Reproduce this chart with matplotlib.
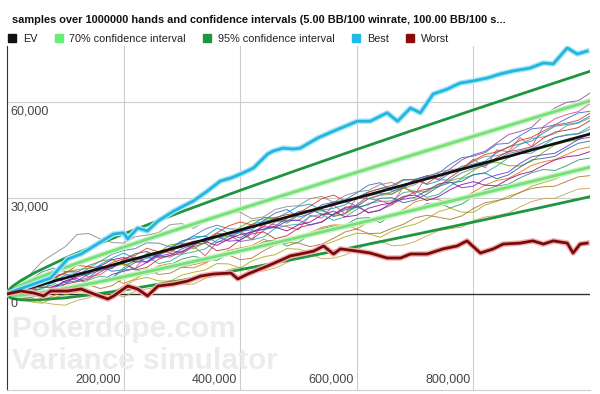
import matplotlib.pyplot as plt
from matplotlib.patches import Patch
from matplotlib.transforms import offset_copy

plt.rcParams['font.family'] = ['Liberation Sans', 'DejaVu Sans']

# hands in thousands
ci_hands = [0, 5, 10, 25, 50, 100, 150, 200, 300, 400, 500, 600, 700, 800, 900, 1000]
ev = [0, 250, 500, 1250, 2500, 5000, 7500, 10000, 15000, 20000, 25000, 30000, 35000, 40000, 45000, 50000]
upper_95 = [0, 1636, 2460, 4349, 6883, 11198, 15091, 18765, 25735, 32397, 38859, 45182, 51399, 57530, 63595, 69600]
lower_95 = [0, -1136, -1460, -1849, -1883, -1198, -91, 1235, 4265, 7603, 11141, 14818, 18601, 22470, 26405, 30400]
upper_70 = [0, 983, 1536, 2888, 4817, 8276, 11512, 14633, 20674, 26553, 32326, 38025, 43668, 49266, 54828, 60360]
lower_70 = [0, -483, -536, -388, 183, 1724, 3488, 5367, 9326, 13447, 17674, 21975, 26332, 30734, 35172, 39640]

best_hands = [0, 12, 75, 104, 127, 183, 200, 207, 224, 241, 259, 286, 320, 344, 366, 384, 401, 423, 447, 457,
              474, 491, 503, 533, 560, 601, 623, 652, 670, 692, 709, 731, 755, 777, 800, 824, 846, 868, 897,
              920, 937, 961, 978, 995]
best = [0, 940, 5000, 10900, 12500, 18750, 19100, 17200, 20600, 19700, 22800, 25900, 29100, 32200, 35300,
        36250, 37500, 39400, 43750, 44700, 45600, 45300, 45600, 48750, 50900, 54000, 54000, 56600, 54000,
        58100, 56600, 62500, 64000, 65900, 66600, 67500, 68750, 69700, 70600, 72200, 71900, 76900, 75000, 75900]

worst_hands = [0, 24, 46, 63, 75, 104, 127, 149, 173, 183, 207, 224, 241, 259, 286, 310, 332, 354, 384, 396,
               413, 447, 474, 486, 503, 526, 543, 560, 572, 601, 623, 652, 675, 692, 721, 748, 772, 789, 812,
               834, 851, 880, 902, 920, 937, 961, 971, 983, 995]
worst = [0, 940, 300, -600, 940, 940, 1560, 0, -1560, -600, 2500, 1560, -600, 2500, 3100, 4060, 5600, 6250,
         6560, 4700, 6250, 8750, 10900, 11900, 12500, 13400, 15000, 12500, 14100, 13400, 12800, 11250, 11250,
         12500, 12500, 14100, 15000, 16600, 12800, 14100, 15600, 15900, 16600, 15600, 16600, 15900, 12800,
         15600, 15900]

# sample runs, every 20k hands, values in thousands of BB
sample_hands = [0, 20, 40, 60, 80, 100, 120, 140, 160, 180, 200, 220, 240, 260, 280, 300, 320, 340, 360,
                380, 400, 420, 440, 460, 480, 500, 520, 540, 560, 580, 600, 620, 640, 660, 680, 700, 720,
                740, 760, 780, 800, 820, 840, 860, 880, 900, 920, 940, 960, 980, 1000]
s01 = [0, 2.4, 3.1, 3.2, 5.8, 6.3, 4.2, 5.1, 7.9, 8.2, 10.5, 11.6, 9.8, 12.3, 13.6, 13.0, 15.2, 17.4, 17.9, 18.5,
       16.4, 17.0, 19.8, 22.5, 23.1, 23.0, 25.4, 26.5, 24.2, 25.1, 27.9, 30.6, 31.5, 31.2, 33.2, 35.6, 36.8, 37.0,
       39.1, 41.9, 43.5, 44.6, 47.2, 49.8, 50.8, 52.1, 55.6, 58.2, 59.9, 60.4, 62.8]
s02 = [0, 1.9, 1.5, 2.2, 4.9, 6.8, 7.2, 5.3, 6.1, 8.4, 9.4, 7.9, 12.8, 11.9, 11.5, 13.4, 14.9, 12.0, 16.2, 16.8,
       19.7, 17.1, 22.3, 21.6, 21.0, 20.1, 24.6, 23.7, 27.8, 25.1, 30.1, 29.8, 29.2, 28.0, 33.5, 31.2, 36.9, 35.9,
       38.4, 38.8, 42.2, 39.4, 45.0, 44.5, 48.9, 46.0, 52.3, 54.8, 56.1, 57.0, 59.5]
s03 = [0, 0.6, -1.2, 0.1, 2.4, 3.1, 5.9, 8.0, 8.8, 7.1, 7.6, 9.9, 11.2, 12.0, 14.5, 16.6, 17.3, 18.2, 16.0, 17.9,
       19.5, 20.1, 22.9, 25.3, 26.4, 24.0, 25.1, 27.9, 28.7, 29.4, 31.6, 34.0, 34.8, 32.1, 33.2, 35.8, 36.9, 37.7,
       40.5, 42.6, 43.1, 44.2, 46.8, 47.1, 49.5, 51.6, 52.0, 52.9, 54.8, 56.6, 57.1]
s04 = [0, 2.5, 6.2, 10.1, 12.5, 14.8, 18.6, 18.9, 17.2, 16.1, 15.9, 17.9, 18.4, 19.2, 21.7, 22.0, 20.5, 22.8, 23.8,
       25.0, 25.6, 23.5, 24.1, 26.4, 27.3, 27.6, 29.8, 30.5, 28.6, 30.8, 31.9, 32.4, 34.2, 34.9, 33.0, 34.2, 36.5,
       38.1, 38.8, 39.3, 41.4, 43.0, 43.2, 44.3, 46.7, 48.6, 49.1, 50.1, 52.6, 53.4, 55.0]
s05 = [0, 1.5, 2.2, 0.4, 1.0, 3.1, 3.8, 4.6, 6.9, 8.9, 9.6, 7.5, 8.3, 10.9, 12.1, 12.6, 14.8, 15.9, 13.5, 14.2,
       16.9, 18.8, 19.4, 17.3, 18.2, 20.6, 21.7, 22.4, 25.0, 27.1, 27.6, 25.3, 26.3, 27.9, 30.1, 31.9, 32.8, 33.5,
       36.4, 38.9, 39.9, 40.3, 42.6, 44.5, 45.1, 46.0, 48.7, 50.6, 51.2, 52.0, 54.2]
s06 = [0, -0.7, 0.8, 2.9, 3.5, 1.6, 2.1, 4.4, 5.6, 5.0, 8.2, 10.6, 11.7, 9.5, 10.3, 12.4, 13.2, 14.1, 16.8, 18.9,
       19.1, 16.9, 17.8, 20.5, 21.4, 21.8, 24.2, 24.9, 23.0, 24.1, 26.5, 28.3, 28.9, 29.1, 31.7, 32.2, 30.2, 31.1,
       33.8, 36.0, 37.2, 37.9, 40.0, 42.6, 43.9, 44.0, 46.4, 48.9, 49.8, 50.2, 52.3]
s07 = [0, 1.6, 1.9, 2.5, 4.4, 6.9, 7.6, 8.1, 10.3, 10.8, 9.0, 10.2, 12.6, 13.0, 15.4, 15.8, 14.1, 16.2, 17.6, 18.0,
       20.9, 22.9, 23.4, 23.7, 22.1, 24.6, 25.8, 26.0, 24.5, 25.1, 27.3, 29.8, 30.8, 31.2, 33.1, 32.0, 31.9, 34.1,
       35.4, 36.3, 38.6, 40.7, 41.2, 40.1, 40.0, 41.5, 44.3, 46.6, 47.6, 48.2, 50.5]
s08 = [0, -1.4, -0.6, 0.2, 1.8, 3.9, 4.9, 3.0, 3.7, 6.1, 7.1, 7.9, 9.9, 11.8, 12.6, 13.2, 15.3, 17.4, 18.1, 16.5,
       16.8, 19.3, 20.2, 20.8, 22.8, 23.1, 21.5, 22.6, 24.9, 26.8, 27.4, 25.5, 26.1, 28.7, 29.6, 30.2, 32.3, 34.4,
       35.0, 33.2, 33.7, 36.0, 37.2, 38.1, 40.8, 42.9, 43.5, 44.0, 46.1, 48.3, 49.0]
s09 = [0, 0.9, 2.8, 4.8, 5.5, 3.6, 4.1, 6.2, 7.4, 8.0, 10.8, 12.6, 13.3, 11.4, 12.0, 14.1, 15.6, 16.0, 18.9, 18.6,
       17.5, 19.7, 20.3, 21.2, 23.7, 25.8, 26.2, 25.0, 24.8, 26.3, 27.1, 27.9, 29.9, 30.1, 28.5, 29.4, 31.2, 33.6,
       34.8, 35.2, 37.3, 37.8, 36.0, 37.2, 39.6, 41.9, 42.4, 43.0, 45.3, 47.1, 47.8]
s10 = [0, -0.5, -1.8, -2.0, -0.5, 1.0, 1.7, 2.8, 4.6, 4.9, 3.3, 4.7, 6.9, 8.8, 9.5, 8.3, 8.2, 9.6, 11.8, 13.6,
       14.4, 15.1, 17.1, 16.0, 15.8, 17.9, 19.2, 20.8, 21.6, 21.5, 20.3, 22.6, 23.8, 24.5, 26.4, 28.8, 29.7, 29.5,
       28.4, 29.8, 31.9, 34.0, 35.5, 36.1, 38.1, 40.2, 41.3, 42.0, 43.6, 45.2, 46.0]
s11 = [0, 2.4, 3.6, 2.0, 2.2, 4.1, 5.3, 6.4, 8.7, 10.7, 11.4, 10.0, 10.1, 12.5, 13.9, 14.6, 16.5, 16.4, 15.2, 17.2,
       18.6, 19.3, 21.0, 20.9, 19.7, 21.6, 22.5, 24.7, 25.9, 24.1, 24.6, 26.8, 27.8, 28.5, 30.5, 30.9, 29.2, 30.4,
       32.6, 34.2, 35.1, 34.0, 33.8, 35.9, 37.4, 38.3, 40.2, 41.9, 42.9, 43.3, 44.5]
s12 = [0, -1.6, -2.4, -2.9, -1.1, -0.2, 0.6, 0.8, -0.7, 0.4, 2.5, 4.4, 5.2, 4.1, 4.0, 5.9, 6.8, 7.5, 9.5, 9.4,
       8.1, 10.3, 11.6, 12.3, 14.2, 14.0, 13.0, 15.2, 16.4, 17.9, 19.0, 18.8, 17.7, 19.6, 20.9, 21.8, 23.5, 25.7,
       26.8, 25.6, 25.5, 27.8, 28.9, 30.6, 31.6, 33.7, 34.8, 35.9, 37.7, 39.3, 40.1]
s13 = [0, 0.2, -1.0, -2.6, -3.2, -3.5, -2.0, -1.2, 0.4, 0.1, -0.9, 0.8, 1.6, 2.3, 4.3, 3.0, 3.1, 4.9, 5.7, 7.6,
       8.4, 7.0, 7.2, 8.1, 9.8, 11.5, 12.5, 11.0, 11.2, 12.2, 13.9, 15.8, 16.6, 15.1, 15.3, 16.4, 18.1, 19.8,
       20.4, 20.9, 22.9, 24.1, 24.5, 25.3, 27.2, 28.9, 29.8, 29.9, 31.4, 32.8, 33.0]
s14 = [0, 1.8, 1.2, 1.5, 3.9, 5.9, 6.5, 6.1, 9.2, 11.2, 12.8, 11.0, 11.5, 12.6, 14.2, 16.5, 17.9, 18.0, 20.6, 19.0,
       19.3, 21.8, 22.7, 23.5, 25.4, 27.4, 28.1, 26.1, 26.8, 27.9, 30.2, 31.9, 32.9, 33.4, 35.5, 35.9, 34.2, 35.3,
       37.8, 39.9, 40.6, 41.5, 44.1, 46.0, 46.9, 47.8, 50.3, 52.4, 53.0, 53.6, 55.6]
s15 = [0, -0.8, 0.3, 2.0, 2.9, 1.2, 1.6, 3.4, 4.2, 5.1, 7.5, 7.9, 6.2, 7.0, 9.1, 10.9, 11.8, 11.0, 10.5, 12.6,
       13.7, 14.3, 16.3, 16.9, 15.0, 16.2, 18.4, 20.4, 21.2, 21.5, 23.6, 23.9, 22.3, 24.7, 25.7, 26.2, 28.2, 28.5,
       26.9, 28.1, 30.4, 32.6, 33.7, 34.3, 36.3, 37.9, 38.9, 38.6, 40.1, 41.9, 42.5]
s16 = [0, 1.8, 4.5, 6.9, 8.1, 7.0, 6.8, 8.9, 10.2, 12.4, 13.6, 14.2, 16.0, 15.9, 14.7, 16.0, 18.2, 20.3, 21.5, 20.4,
       20.2, 21.6, 23.9, 23.8, 22.6, 24.9, 26.0, 26.8, 28.8, 28.9, 27.5, 29.8, 31.0, 31.9, 33.6, 35.8, 36.9, 35.7,
       35.6, 37.9, 39.2, 40.1, 42.0, 43.9, 44.7, 45.5, 47.3, 48.9, 49.6, 50.0, 51.5]
s17 = [0, 0.7, 2.6, 4.6, 5.2, 6.5, 8.9, 8.6, 7.6, 9.8, 11.0, 12.1, 14.3, 13.2, 13.0, 15.5, 16.4, 17.0, 19.1, 21.3,
       22.5, 21.6, 21.2, 23.9, 24.8, 25.2, 27.5, 29.8, 30.9, 29.1, 29.6, 31.8, 33.0, 33.9, 35.8, 35.6, 34.5, 36.9,
       38.2, 39.4, 41.7, 43.6, 44.4, 45.8, 48.0, 49.0, 50.9, 52.8, 53.4, 54.3, 56.5]
s18 = [0, -1.7, -0.9, 0.9, 1.4, 1.2, 3.0, 2.9, 1.7, 2.6, 4.9, 5.6, 7.8, 6.1, 6.5, 8.4, 9.2, 10.0, 12.0, 12.2,
       10.7, 11.2, 13.5, 15.3, 16.1, 15.9, 14.8, 15.6, 17.4, 19.4, 20.3, 18.9, 19.0, 20.5, 21.8, 23.8, 24.6, 24.0,
       23.3, 24.4, 26.7, 28.5, 29.2, 29.9, 31.8, 33.0, 33.5, 33.7, 35.2, 36.6, 37.0]
samples = [s01, s02, s03, s04, s05, s06, s07, s08, s09, s10, s11, s12, s13, s14, s15, s16, s17, s18]
sample_colors = ['#994499', '#dd4477', '#3366cc', '#888888', '#b82e2e', '#22aa99', '#66aa00', '#6633cc',
                 '#316395', '#e67300', '#990099', '#aaaa11', '#c8a050', '#0099c6', '#329262', '#5574a6',
                 '#dc3912', '#b07030']

x_ticks = [200000, 400000, 600000, 800000]
y_ticks = [0, 30000, 60000]

fig = plt.figure(figsize=(6, 3.94), dpi=100)
ax = fig.add_axes([7 / 600, 4 / 394, 583 / 600, 344 / 394])

for v in y_ticks[1:]:
    ax.axhline(v, color='#cccccc', lw=0.8, zorder=0)
for v in x_ticks:
    ax.axvline(v, color='#cccccc', lw=0.8, zorder=0)
ax.axhline(0, color='#333333', lw=1.0, zorder=1)

ax.text(5 / 583, 0.178, 'Pokerdope.com', transform=ax.transAxes, fontsize=21.5, fontweight='bold',
        color='#ececec', va='center', zorder=0)
ax.text(5 / 583, 0.085, 'Variance simulator', transform=ax.transAxes, fontsize=21.5, fontweight='bold',
        color='#ececec', va='center', zorder=0)

sx = [h * 1000 for h in sample_hands]
for s, c in zip(samples, sample_colors):
    ax.plot(sx, [v * 1000 for v in s], color=c, lw=0.7, alpha=0.85, zorder=2)

cx = [h * 1000 for h in ci_hands]
ax.plot(cx, upper_70, color='#c8f5c8', lw=4, zorder=3, solid_capstyle='butt')
ax.plot(cx, lower_70, color='#c8f5c8', lw=4, zorder=3, solid_capstyle='butt')
ax.plot(cx, upper_70, color='#77e077', lw=2, zorder=3)
ax.plot(cx, lower_70, color='#77e077', lw=2, zorder=3)
ax.plot(cx, upper_95, color='#1e9640', lw=2, zorder=3)
ax.plot(cx, lower_95, color='#1e9640', lw=2, zorder=3)
ax.plot(cx, ev, color='#111111', lw=2, zorder=4)

bx = [h * 1000 for h in best_hands]
ax.plot(bx, best, color='#a8e6f5', lw=4, zorder=4)
ax.plot(bx, best, color='#22b5e0', lw=2, zorder=5)
wx = [h * 1000 for h in worst_hands]
ax.plot(wx, worst, color='#f0b0b0', lw=4, zorder=4)
ax.plot(wx, worst, color='#7a0a0a', lw=2, zorder=5)

ax.set_xlim(0, 1000000)
ax.set_ylim(-30000, 77500)
ax.set_xticks([])
ax.set_yticks([])
for side in ['top', 'right']:
    ax.spines[side].set_visible(False)
ax.spines['left'].set_color('#333333')
ax.spines['bottom'].set_color('#cccccc')

ytr = offset_copy(ax.get_yaxis_transform(), fig=fig, x=0, y=-4, units='dots')
for v in y_ticks:
    ax.text(0.006, v, f'{v:,}', transform=ytr, fontsize=9, color='#444444', va='top', ha='left')
for v in x_ticks:
    ax.text(v - 5000, 0.03, f'{v:,}', transform=ax.get_xaxis_transform(), fontsize=9, color='#444444',
            va='center', ha='right')

fig.text(12 / 600, 1 - 20 / 394, 'samples over 1000000 hands and confidence intervals '
         '(5.00 BB/100 winrate, 100.00 BB/100 s...', fontsize=7.9, fontweight='bold', color='#111111',
         va='center', ha='left')

handles = [Patch(color='#111111'), Patch(color='#66ee77'), Patch(color='#1e9640'),
           Patch(color='#22bbe8'), Patch(color='#8b0a0a')]
labels = ['EV', '70% confidence interval', '95% confidence interval', 'Best', 'Worst']
fig.legend(handles, labels, loc='center left', bbox_to_anchor=(5 / 600, 1 - 39 / 394), ncol=5, frameon=False,
           fontsize=7.8, handlelength=0.75, handleheight=0.75, handletextpad=0.6, columnspacing=1.6,
           borderaxespad=0, borderpad=0.3, labelcolor='#222222')

fig.savefig('out.png', dpi=100)
